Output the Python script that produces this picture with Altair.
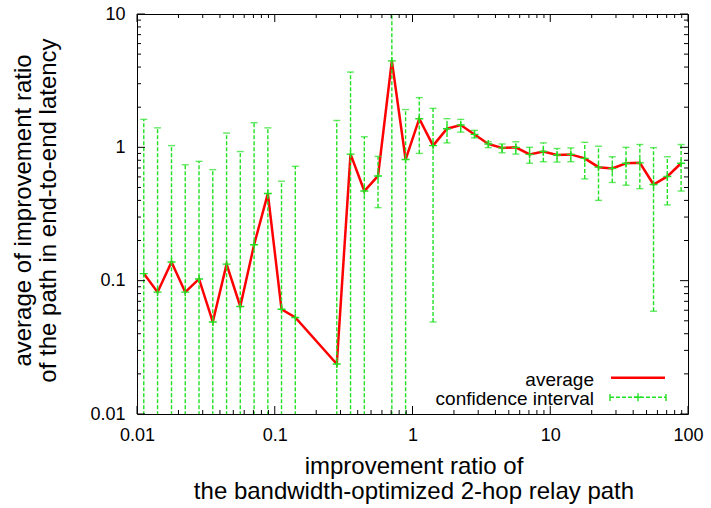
import altair as alt
import pandas as pd

# ---- data ----
ratio_bins = [0.0112, 0.0141, 0.0178, 0.0224, 0.0282, 0.0355, 0.0447, 0.0562, 0.0708, 0.0891,
              0.112, 0.141, 0.282, 0.355, 0.447, 0.562, 0.708, 0.891, 1.12, 1.41,
              1.78, 2.24, 2.82, 3.55, 4.47, 5.62, 7.08, 8.91, 11.2, 14.1,
              17.8, 22.4, 28.2, 35.5, 44.7, 56.2, 70.8, 89.1]
average = [0.113, 0.082, 0.138, 0.082, 0.103, 0.049, 0.133, 0.064, 0.186, 0.45,
           0.061, 0.053, 0.0237, 0.89, 0.47, 0.61, 4.45, 0.81, 1.64, 1.03,
           1.38, 1.47, 1.25, 1.06, 0.99, 1.0, 0.885, 0.93, 0.877, 0.885,
           0.826, 0.71, 0.695, 0.76, 0.765, 0.526, 0.605, 0.76]
ci_low = [0.001, 0.001, 0.001, 0.001, 0.001, 0.001, 0.001, 0.001, 0.001, 0.001,
          0.001, 0.001, 0.001, 0.001, 0.001, 0.353, 0.001, 0.001, 0.90, 0.049,
          1.08, 1.30, 1.18, 0.995, 0.91, 0.89, 0.76, 0.78, 0.775, 0.78,
          0.58, 0.40, 0.545, 0.52, 0.49, 0.059, 0.37, 0.47]
ci_high = [1.62, 1.40, 1.03, 0.74, 0.785, 0.68, 1.28, 0.93, 1.53, 1.40,
           0.557, 0.72, 1.59, 3.67, 1.2, 0.855, 20.0, 1.92, 2.36, 1.96,
           1.64, 1.62, 1.34, 1.10, 1.06, 1.1, 1.0, 1.08, 0.98, 0.99,
           1.09, 1.02, 0.85, 1.0, 1.05, 0.995, 0.85, 1.05]

x_major = [0.01, 0.1, 1, 10, 100]
y_major = [0.01, 0.1, 1, 10]
minor_mult = [2, 3, 4, 5, 6, 7, 8, 9]
x_minor = [d * m for d in x_major[:-1] for m in minor_mult]
y_minor = [d * m for d in y_major[:-1] for m in minor_mult]

legend_labels = ["average", "confidence interval"]

W, H = 551, 400
RED = "#ff0000"
GREEN = "#22e022"
FONT = "Liberation Sans"

df = pd.DataFrame({"x": ratio_bins, "y": average, "lo": ci_low, "hi": ci_high})

xs = alt.Scale(type="log", domain=[0.01, 100], nice=False)
ys = alt.Scale(type="log", domain=[0.01, 10], nice=False)

x_axis = alt.Axis(values=x_major, format="~g", ticks=False, tickSize=0, domain=False, grid=False,
                  labelFontSize=18, labelFont=FONT, labelColor="black", labelPadding=12,
                  labelFlush=False, labelOverlap=False,
                  title=["improvement ratio of", "the bandwidth-optimized 2-hop relay path"],
                  titleFontSize=24, titleFont=FONT, titleFontWeight="normal", titleColor="black",
                  titleX=W / 2 + 1, titleY=59, titleAlign="center", titleBaseline="alphabetic",
                  titleLineHeight=25)
y_axis = alt.Axis(values=y_major, format="~g", ticks=False, tickSize=0, domain=False, grid=False,
                  labelFontSize=18, labelFont=FONT, labelColor="black", labelPadding=12,
                  labelFlush=False, labelOverlap=False,
                  title=["average of improvement ratio", "of the path in end-to-end latency"],
                  titleFontSize=24, titleFont=FONT, titleFontWeight="normal", titleColor="black",
                  titleAngle=270, titleX=-107, titleY=196, titleAlign="center",
                  titleBaseline="alphabetic", titleLineHeight=25)


def X(field):
    return alt.X(field, scale=xs, axis=x_axis)


def Y(field):
    return alt.Y(field, scale=ys, axis=y_axis)


base = alt.Chart(df)

line = base.mark_line(color=RED, strokeWidth=2.5, clip=True).encode(x=X("x:Q"), y=Y("y:Q"))

bars = base.mark_rule(color=GREEN, strokeWidth=1.4, strokeDash=[4, 2], clip=True).encode(
    x=X("x:Q"), y=Y("lo:Q"), y2="hi:Q")
cap_hi = base.mark_tick(color=GREEN, thickness=1.4, size=7, orient="horizontal", clip=True).encode(
    x=X("x:Q"), y=Y("hi:Q"))
cap_lo = base.mark_tick(color=GREEN, thickness=1.4, size=7, orient="horizontal", clip=True).encode(
    x=X("x:Q"), y=Y("lo:Q"))
plus = base.mark_point(shape="M-1,0L1,0M0,-1L0,1", filled=False, color=GREEN, strokeWidth=1.4,
                       size=64, opacity=1, clip=True).encode(x=X("x:Q"), y=Y("y:Q"))

# axis ticks (inward, mirrored)
xmaj = alt.Chart(pd.DataFrame({"x": x_major}))
xmin = alt.Chart(pd.DataFrame({"x": x_minor}))
ymaj = alt.Chart(pd.DataFrame({"y": y_major}))
ymin = alt.Chart(pd.DataFrame({"y": y_minor}))
tick_layers = []
for ch, L in ((xmaj, 8), (xmin, 4)):
    tick_layers.append(ch.mark_rule(color="black", strokeWidth=1).encode(x=X("x:Q"), y=alt.value(H), y2=alt.value(H - L)))
    tick_layers.append(ch.mark_rule(color="black", strokeWidth=1).encode(x=X("x:Q"), y=alt.value(0), y2=alt.value(L)))
for ch, L in ((ymaj, 8), (ymin, 4)):
    tick_layers.append(ch.mark_rule(color="black", strokeWidth=1).encode(y=Y("y:Q"), x=alt.value(0), x2=alt.value(L)))
    tick_layers.append(ch.mark_rule(color="black", strokeWidth=1).encode(y=Y("y:Q"), x=alt.value(W), x2=alt.value(W - L)))

# legend
leg1 = alt.Chart(pd.DataFrame({"t": [legend_labels[0]]}))
leg2 = alt.Chart(pd.DataFrame({"t": [legend_labels[1]]}))
legend_layers = [
    leg1.mark_text(align="right", baseline="alphabetic", fontSize=19, font=FONT, color="black").encode(
        x=alt.value(457), y=alt.value(372), text="t:N"),
    leg2.mark_text(align="right", baseline="alphabetic", fontSize=19, font=FONT, color="black").encode(
        x=alt.value(457), y=alt.value(391), text="t:N"),
    leg1.mark_rule(color=RED, strokeWidth=2.5).encode(x=alt.value(474), x2=alt.value(528), y=alt.value(363.7)),
    leg2.mark_rule(color=GREEN, strokeWidth=1.4, strokeDash=[4, 2]).encode(
        x=alt.value(473), x2=alt.value(529), y=alt.value(383.3)),
    leg2.mark_rule(color=GREEN, strokeWidth=1.4).encode(x=alt.value(473), y=alt.value(380), y2=alt.value(387)),
    leg2.mark_rule(color=GREEN, strokeWidth=1.4).encode(x=alt.value(529), y=alt.value(380), y2=alt.value(387)),
    leg2.mark_point(shape="M-1,0L1,0M0,-1L0,1", filled=False, color=GREEN, strokeWidth=1.4, size=64,
                    opacity=1).encode(x=alt.value(501), y=alt.value(383.3)),
]

chart = alt.layer(line, bars, cap_hi, cap_lo, plus, *tick_layers, *legend_layers).properties(
    width=W, height=H,
    autosize=alt.AutoSizeParams(type="none"),
    padding={"left": 137, "top": 14, "right": 711 - 137 - W, "bottom": 508 - 14 - H},
    background="white",
).configure_view(stroke="black", strokeWidth=1)

chart.save("out.html", embed_options={"renderer": "svg", "actions": False})
